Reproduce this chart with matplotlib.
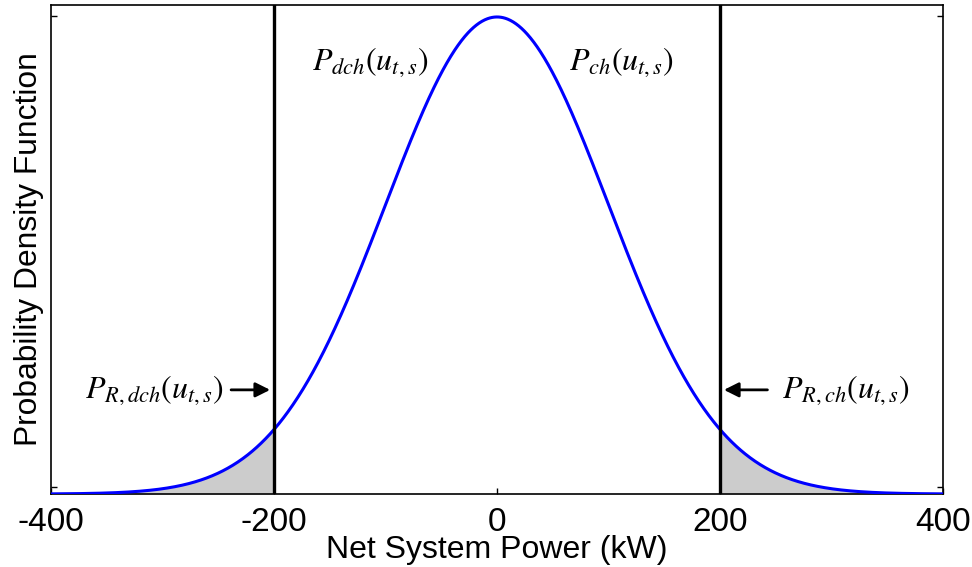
import numpy as np
import matplotlib
matplotlib.use("Agg")
import matplotlib.pyplot as plt

# Data
mean_kw = 0.0
std_kw = 100.0
x_min, x_max = -400, 400
thresholds = [-200, 200]
xtick_vals = [-400, -200, 0, 200, 400]
xtick_labels = ["-400", "-200", "0", "200", "400"]

plt.rcParams['font.family'] = ['Liberation Sans', 'DejaVu Sans']
plt.rcParams['mathtext.fontset'] = 'stix'

x = np.linspace(x_min, x_max, 1601)
pdf = np.exp(-0.5 * ((x - mean_kw) / std_kw) ** 2) / (std_kw * np.sqrt(2 * np.pi))
ymax = pdf.max() / 0.9755

fig = plt.figure(figsize=(9.72, 5.67), dpi=100)
ax = fig.add_axes([0.0525, 0.1287, 0.9177, 0.8625])

left = x <= thresholds[0]
right = x >= thresholds[1]
ax.fill_between(x[left], 0, pdf[left], color='#cccccc', lw=0)
ax.fill_between(x[right], 0, pdf[right], color='#cccccc', lw=0)
ax.plot(x, pdf, color='#0000ff', lw=2.2, zorder=3)
for t in thresholds:
    ax.axvline(t, color='black', lw=2.4, zorder=4)

ax.set_xlim(x_min, x_max)
ax.set_ylim(0, ymax)
ax.set_xticks(xtick_vals)
ax.set_xticklabels(xtick_labels)
ax.set_yticks([0.00006 * ymax / 0.00409, 0.004 * ymax / 0.00409])
ax.set_yticklabels([])
ax.tick_params(axis='both', direction='in', length=4, width=1, labelsize=24,
               top=False, right=True, pad=4)
ax.tick_params(axis='x', length=4, pad=9)
for s in ax.spines.values():
    s.set_linewidth(1.2)

ax.set_xlabel("Net System Power (kW)", fontsize=23, labelpad=-2)
ax.set_ylabel("Probability Density Function", fontsize=22.9, labelpad=1)

ax.text(-114, 0.883 * ymax, r"$P_{dch}(u_{t,s})$", fontsize=23, ha='center', va='center')
ax.text(112, 0.883 * ymax, r"$P_{ch}(u_{t,s})$", fontsize=23, ha='center', va='center')

ya = 0.213 * ymax
ax.annotate("", xy=(thresholds[0] - 1, ya), xytext=(-241, ya),
            arrowprops=dict(arrowstyle='-|>', color='black', lw=2, mutation_scale=22))
ax.text(-245, ya, r"$P_{R,dch}(u_{t,s})$", fontsize=23, ha='right', va='center')
ax.annotate("", xy=(thresholds[1] + 1, ya), xytext=(245, ya),
            arrowprops=dict(arrowstyle='-|>', color='black', lw=2, mutation_scale=22))
ax.text(256, ya, r"$P_{R,ch}(u_{t,s})$", fontsize=23, ha='left', va='center')

fig.savefig("out.png", dpi=100)
